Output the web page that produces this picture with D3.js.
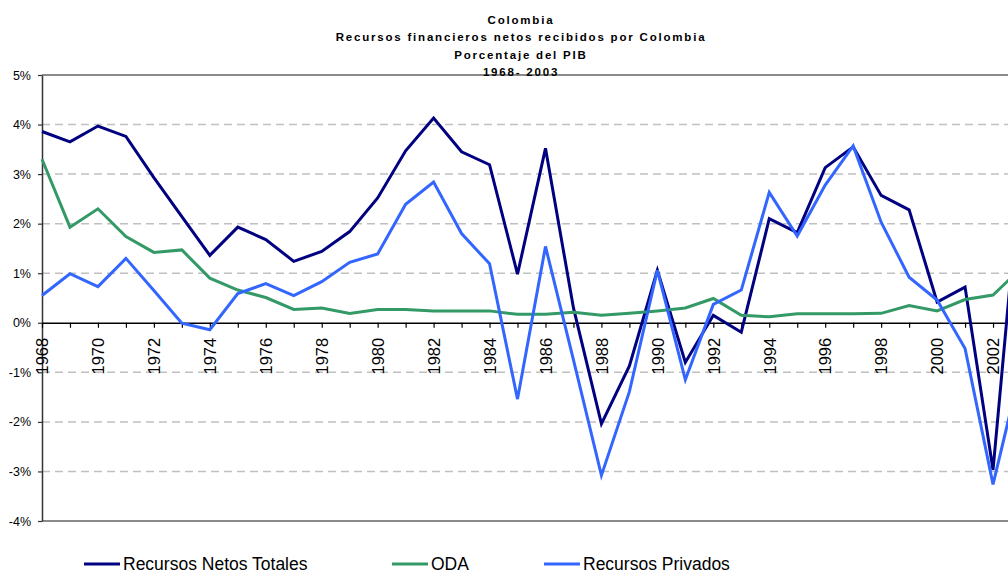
<!DOCTYPE html>
<html>
<head>
<meta charset="utf-8">
<script src="https://cdn.jsdelivr.net/npm/d3@7"></script>
<style>
body { margin: 0; background: #fff; }
svg { display: block; font-family: "Liberation Sans", Arial, sans-serif; }
.grid line { stroke: #c0c0c0; stroke-width: 1.5; stroke-dasharray: 8,5; }
.line { fill: none; stroke-width: 3; stroke-linejoin: miter; }
</style>
</head>
<body>
<svg id="chart" width="1008" height="574"></svg>
<script>
var years = [1968,1969,1970,1971,1972,1973,1974,1975,1976,1977,1978,1979,
  1980,1981,1982,1983,1984,1985,1986,1987,1988,1989,1990,1991,
  1992,1993,1994,1995,1996,1997,1998,1999,2000,2001,2002,2003];

// % del PIB
var netosTotales = [3.86,3.65,3.97,3.76,2.93,2.14,1.36,1.93,1.68,1.24,1.44,1.84,
  2.52,3.47,4.13,3.45,3.19,0.98,3.52,0.30,-2.04,-0.87,1.06,-0.80,
  0.15,-0.19,2.10,1.82,3.13,3.55,2.57,2.28,0.42,0.72,-2.97,3.2];
var oda = [3.30,1.93,2.30,1.74,1.42,1.47,0.90,0.66,0.51,0.27,0.30,0.19,
  0.27,0.27,0.24,0.24,0.24,0.17,0.17,0.21,0.15,0.19,0.24,0.30,
  0.49,0.15,0.12,0.18,0.18,0.18,0.19,0.35,0.24,0.47,0.56,1.1];
var privados = [0.55,0.99,0.73,1.30,0.65,-0.01,-0.14,0.59,0.79,0.55,0.83,1.22,
  1.39,2.39,2.84,1.80,1.19,-1.54,1.54,-0.75,-3.08,-1.39,1.06,-1.15,
  0.37,0.66,2.63,1.75,2.78,3.57,2.03,0.92,0.46,-0.52,-3.26,-0.9];

var yTicks = [5,4,3,2,1,0,-1,-2,-3,-4];
var xLabels = [1968,1970,1972,1974,1976,1978,1980,1982,1984,1986,1988,1990,
  1992,1994,1996,1998,2000,2002];
var titleLines = ["Colombia", "Recursos financieros netos recibidos por Colombia",
  "Porcentaje del PIB", "1968- 2003"];
var seriesNames = ["Recursos Netos Totales", "ODA", "Recursos Privados"];
var seriesColors = ["#000080", "#339966", "#3366ff"];

renderChart();

function renderChart(){
  var svg = d3.select("#chart");
  var width = 1008;

  // 28 px por año aprox, 2003 queda fuera del cuadro (recortado como en el original)
  var x = d3.scaleLinear().domain([1968, 2003]).range([42, 1021]);
  var y = d3.scaleLinear().domain([-4, 5]).range([521, 75]);

  // gridlines
  svg.append("g")
    .attr("class", "grid")
    .selectAll("line")
    .data(yTicks.filter(function(d){ return d != 0 && d != 5 && d != -4; }))
    .enter()
    .append("line")
    .attr("x1", x(1968))
    .attr("x2", width)
    .attr("y1", function(d){ return y(d); })
    .attr("y2", function(d){ return y(d); });

  // borde superior e inferior
  svg.append("line")
    .attr("x1", x(1968)).attr("x2", width)
    .attr("y1", y(5)).attr("y2", y(5))
    .style("stroke", "#8a8a8a").style("stroke-width", 2);
  svg.append("line")
    .attr("x1", x(1968)).attr("x2", width)
    .attr("y1", y(-4)).attr("y2", y(-4))
    .style("stroke", "#8a8a8a").style("stroke-width", 2);

  // eje Y
  var yAxis = d3.axisLeft(y)
    .tickValues(yTicks)
    .tickSize(4)
    .tickSizeOuter(0)
    .tickFormat(function(d){ return d + "%"; });

  var gy = svg.append("g")
    .attr("transform", "translate(" + x(1968) + ",0)")
    .call(yAxis);
  gy.select(".domain").style("stroke", "#333").style("stroke-width", 1.5);
  gy.selectAll(".tick line").style("stroke", "#333").style("stroke-width", 1.2);
  gy.selectAll(".tick text")
    .attr("x", -11)
    .style("font-size", "12.5px")
    .style("fill", "#000")
    .style("font-family", "'Liberation Sans', Arial, sans-serif");

  // eje X en 0%
  var xAxis = d3.axisBottom(x)
    .tickValues(years)
    .tickSize(5)
    .tickSizeOuter(0)
    .tickFormat(function(d){ return xLabels.indexOf(d) >= 0 ? d : ""; });

  var gx = svg.append("g")
    .attr("transform", "translate(0," + y(0) + ")")
    .call(xAxis);
  gx.select(".domain").style("stroke", "#000").style("stroke-width", 1.5);
  gx.selectAll(".tick line").style("stroke", "#000").style("stroke-width", 1.2);
  gx.selectAll(".tick text")
    .attr("transform", "rotate(-90)")
    .attr("x", -15)
    .attr("y", 0)
    .attr("dy", "0.35em")
    .style("text-anchor", "end")
    .style("font-size", "16.5px")
    .style("fill", "#000")
    .style("font-family", "'Liberation Sans', Arial, sans-serif");

  // lineas
  var allSeries = [netosTotales, oda, privados];

  var line = d3.line()
    .x(function(d, i){ return x(years[i]); })
    .y(function(d){ return y(d); });

  svg.selectAll(".line")
    .data(allSeries)
    .enter()
    .append("path")
    .attr("class", "line")
    .attr("d", function(d){ return line(d); })
    .style("stroke", function(d, i){ return seriesColors[i]; });

  // titulo
  svg.append("g")
    .selectAll("text")
    .data(titleLines)
    .enter()
    .append("text")
    .attr("x", 521)
    .attr("y", function(d, i){ return 20 + i * 17.3; })
    .attr("dy", "0.35em")
    .style("text-anchor", "middle")
    .style("font-weight", "bold")
    .style("font-size", "11.5px")
    .style("letter-spacing", "1.8px")
    .text(function(d){ return d; });

  // leyenda
  var legendX = [84, 392, 544];

  var legend = svg.selectAll(".legend")
    .data(seriesNames)
    .enter()
    .append("g")
    .attr("class", "legend")
    .attr("transform", function(d, i){ return "translate(" + legendX[i] + ",564)"; });

  legend.append("line")
    .attr("x1", 0).attr("x2", 36)
    .attr("y1", 0).attr("y2", 0)
    .style("stroke-width", 3)
    .style("stroke", function(d, i){ return seriesColors[i]; });

  legend.append("text")
    .attr("x", 39)
    .attr("y", 0)
    .attr("dy", "0.34em")
    .style("font-size", "17.5px")
    .text(function(d){ return d; });
}
</script>
</body>
</html>
